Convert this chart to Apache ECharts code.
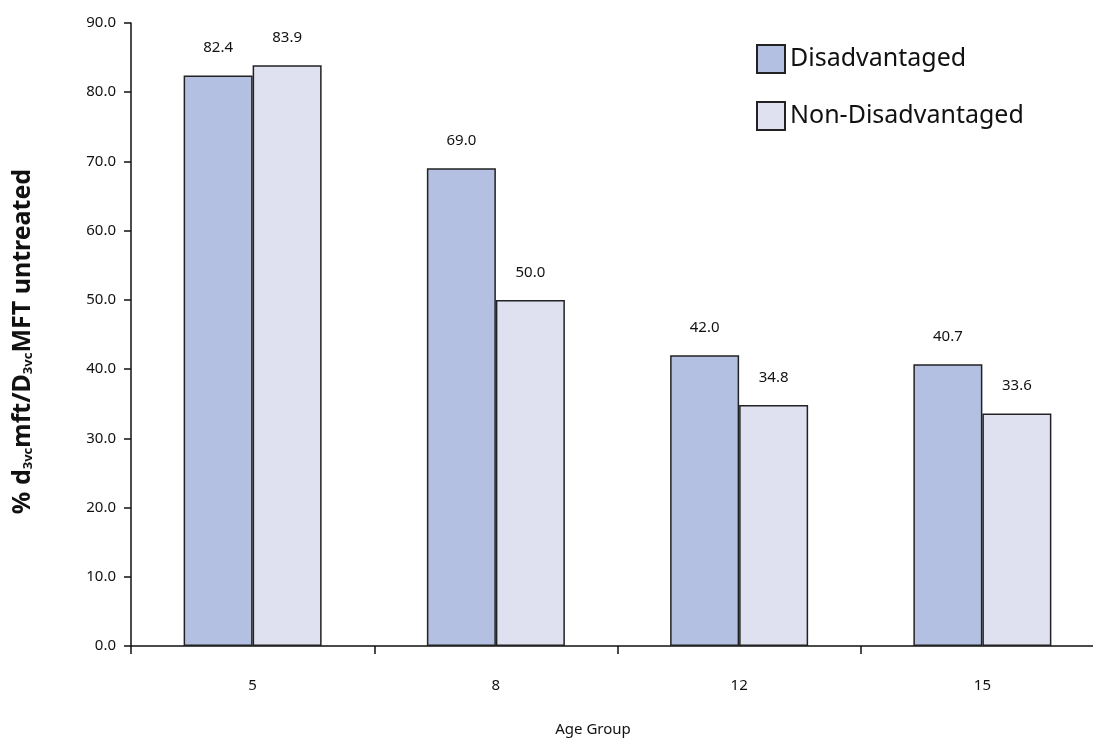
<!DOCTYPE html>
<html>
<head>
<meta charset="utf-8">
<script src="https://cdn.jsdelivr.net/npm/echarts@6/dist/echarts.min.js"></script>
<style>
html,body{margin:0;padding:0;background:#fff;}
#chart{width:1093px;height:739px;}
</style>
</head>
<body>
<div id="chart"></div>
<script>
const categories = ['5', '8', '12', '15'];
const disadvantaged = [82.4, 69.0, 42.0, 40.7];
const nonDisadvantaged = [83.9, 50.0, 34.8, 33.6];
const seriesNames = ['Disadvantaged', 'Non-Disadvantaged'];
const xAxisTitle = 'Age Group';

const FONT = '"Noto Sans", sans-serif';
const chart = echarts.init(document.getElementById('chart'), null, {renderer: 'canvas'});

const labelCfg = {
  show: true,
  position: 'top',
  distance: 20,
  formatter: p => p.value.toFixed(1),
  fontFamily: FONT,
  fontSize: 15,
  color: '#111'
};

chart.setOption({
  animation: false,
  backgroundColor: '#fff',
  textStyle: {fontFamily: FONT},
  title: {
    text: xAxisTitle,
    left: 593,
    top: 722,
    textAlign: 'center',
    padding: 0,
    textStyle: {fontFamily: FONT, fontSize: 15, fontWeight: 'normal', color: '#111'}
  },
  legend: {
    orient: 'vertical',
    left: 751,
    top: 39,
    itemWidth: 28,
    itemHeight: 28,
    itemGap: 27,
    icon: 'rect',
    textStyle: {fontFamily: FONT, fontSize: 25, lineHeight: 28, color: '#111', padding: [0, 0, 0, 0]},
    data: seriesNames
  },
  grid: {left: 131, top: 23, width: 973, bottom: 93, containLabel: false, outerBoundsMode: 'none'},
  xAxis: {
    type: 'category',
    data: categories,
    axisLine: {lineStyle: {color: '#111', width: 1.5}},
    axisTick: {show: true, length: 8, lineStyle: {color: '#111', width: 1.5}},
    axisLabel: {margin: 32, fontFamily: FONT, fontSize: 15, color: '#111'}
  },
  yAxis: {
    type: 'value',
    min: 0,
    max: 90,
    interval: 10,
    name: '% d{sub|3vc}mft/D{sub|3vc}MFT untreated',
    nameLocation: 'middle',
    nameGap: 96,
    nameRotate: 90,
    nameTextStyle: {
      fontFamily: FONT, fontSize: 25, fontWeight: 'bold', color: '#111',
      padding: [0, 14, 0, 0],
      rich: {sub: {fontFamily: FONT, fontSize: 13, fontWeight: 'bold', color: '#111', verticalAlign: 'bottom', padding: [10, 0, 0, 0]}}
    },
    axisLine: {show: true, lineStyle: {color: '#111', width: 1.5}},
    axisTick: {show: true, length: 7, lineStyle: {color: '#111', width: 1.5}},
    axisLabel: {margin: 15, fontFamily: FONT, fontSize: 15, color: '#111', formatter: v => v.toFixed(1)},
    splitLine: {show: false}
  },
  series: [
    {
      name: seriesNames[0],
      type: 'bar',
      data: disadvantaged,
      barWidth: 69,
      barGap: '0%',
      itemStyle: {color: '#b3c0e1', borderColor: '#222', borderWidth: 1.5},
      label: labelCfg
    },
    {
      name: seriesNames[1],
      type: 'bar',
      data: nonDisadvantaged,
      barWidth: 69,
      barGap: '0%',
      itemStyle: {color: '#dfe1f0', borderColor: '#222', borderWidth: 1.5},
      label: labelCfg
    }
  ]
});
</script>
</body>
</html>
